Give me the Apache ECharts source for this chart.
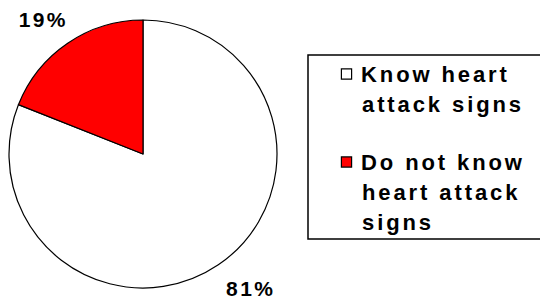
<!DOCTYPE html>
<html><head><meta charset="utf-8">
<script src="https://cdn.jsdelivr.net/npm/echarts@6/dist/echarts.min.js"></script>
<style>
html,body{margin:0;padding:0;background:#fff;}
#chart{width:540px;height:302px;}
#chart text{letter-spacing:2.4px;}
#chart text[style*="22px"]{letter-spacing:2.9px;}
</style></head><body><div id="chart"></div>
<script>
// ---- data ----
const categories = ['Know heart attack signs', 'Do not know heart attack signs'];
const values = [81, 19];
const legendLines = [['Know heart', 'attack signs'], ['Do not know', 'heart attack', 'signs']];
const colors = ['#FFFFFF', '#FF0000'];

// ---- layout ----
const CX = 143, CY = 154, R = 134;
const START = 90;
const LABEL_DIST = 170, LABEL_ROT = 3.4, LABEL_DX = 4;
const FONT = '"Liberation Sans", Arial, sans-serif';
const total = values.reduce((a, b) => a + b, 0);
function midAngle(i) {
  let cum = 0;
  for (let k = 0; k < i; k++) cum += values[k];
  return START - (cum + values[i] / 2) / total * 360;
}

const rich = {
  g: { width: 10, lineHeight: 30 },
  s: { width: 20, lineHeight: 30 },
  t: { fontSize: 22, fontWeight: 'bold', fontFamily: FONT, color: '#000', lineHeight: 30 }
};
colors.forEach((c, i) => {
  rich['b' + i] = { width: 9, height: 9, backgroundColor: c, borderColor: '#000', borderWidth: 1.2, lineHeight: 30 };
});

const chart = echarts.init(document.getElementById('chart'), null, { renderer: 'svg' });
chart.setOption({
  animation: false,
  color: colors,
  legend: {
    orient: 'vertical',
    left: 308, top: 55,
    padding: [4, 90, 2, 29],
    borderColor: '#000', borderWidth: 1.5,
    icon: 'none', itemWidth: 0, itemHeight: 0, itemGap: 28,
    selectedMode: false,
    data: categories,
    formatter: function (name) {
      const i = categories.indexOf(name);
      return legendLines[i].map((ln, j) => (j === 0 ? '{b' + i + '|}{g|}' : '{s|}') + '{t|' + ln + '}').join('\n');
    },
    textStyle: { rich: rich, lineHeight: 30 }
  },
  series: [{
    type: 'pie',
    center: [CX, CY],
    radius: R,
    startAngle: START,
    clockwise: true,
    data: categories.map((n, i) => ({ name: n, value: values[i] })),
    itemStyle: { borderColor: '#000', borderWidth: 1.2 },
    label: {
      show: true,
      formatter: '{d}%',
      overflow: 'none',
      alignTo: 'none',
      bleedMargin: 0,
      fontSize: 21, fontWeight: 'bold', fontFamily: FONT, color: '#000'
    },
    labelLine: { show: false },
    labelLayout: function (p) {
      const a = (midAngle(p.dataIndex) + LABEL_ROT) * Math.PI / 180;
      return {
        x: CX + LABEL_DX + LABEL_DIST * Math.cos(a),
        y: CY - LABEL_DIST * Math.sin(a),
        align: 'center', verticalAlign: 'middle'
      };
    }
  }]
});
</script></body></html>
